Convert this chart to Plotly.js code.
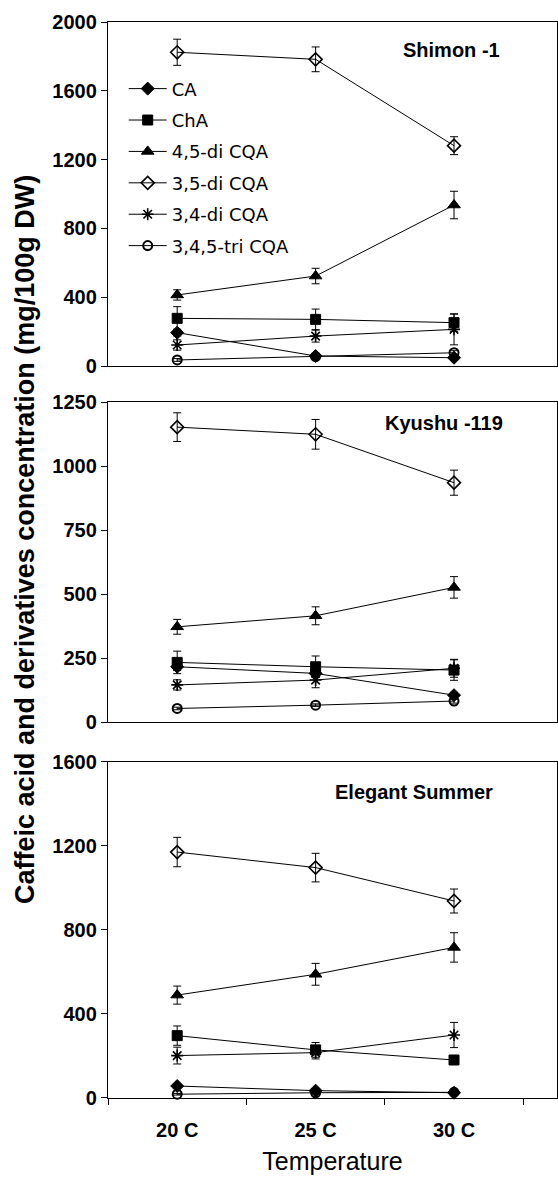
<!DOCTYPE html>
<html>
<head>
<meta charset="utf-8">
<script src="https://cdn.plot.ly/plotly-3.0.1.min.js"></script>
<style>html,body{margin:0;padding:0;background:#fff;}#chart{width:558px;height:1178px;}</style>
</head>
<body>
<div id="chart"></div>
<script>
// ---- Data ----
const categories = ['20 C', '25 C', '30 C'];
const seriesNames = ['CA', 'ChA', '4,5-di CQA', '3,5-di CQA', '3,4-di CQA', '3,4,5-tri CQA'];
const panelNames = ['Shimon -1', 'Kyushu -119', 'Elegant Summer'];

// Shimon -1
const shimonCA = [194, 58, 48];
const shimonChA = [277, 271, 252];
const shimon45 = [413, 523, 936];
const shimon35 = [1824, 1783, 1281];
const shimon34 = [122, 174, 213];
const shimonTri = [35, 54, 77];
const shimonCAErr = [20, 10, 10];
const shimonChAErr = [68, 60, 50];
const shimon45Err = [30, 45, 80];
const shimon35Err = [76, 72, 52];
const shimon34Err = [30, 35, 90];
const shimonTriErr = [8, 10, 12];

// Kyushu -119
const kyushuCA = [216, 190, 105];
const kyushuChA = [233, 216, 203];
const kyushu45 = [372, 415, 526];
const kyushu35 = [1152, 1124, 935];
const kyushu34 = [145, 164, 210];
const kyushuTri = [53, 66, 82];
const kyushuCAErr = [15, 15, 10];
const kyushuChAErr = [44, 42, 40];
const kyushu45Err = [29, 35, 42];
const kyushu35Err = [56, 58, 49];
const kyushu34Err = [20, 30, 35];
const kyushuTriErr = [5, 5, 8];

// Elegant Summer
const elegantCA = [57, 35, 25];
const elegantChA = [297, 229, 181];
const elegant45 = [490, 589, 717];
const elegant35 = [1171, 1097, 938];
const elegant34 = [202, 216, 300];
const elegantTri = [18, 25, 27];
const elegantCAErr = [8, 8, 5];
const elegantChAErr = [46, 35, 15];
const elegant45Err = [43, 52, 70];
const elegant35Err = [70, 68, 57];
const elegant34Err = [40, 30, 60];
const elegantTriErr = [4, 4, 4];

const yTicks1 = [0, 400, 800, 1200, 1600, 2000];
const yTicks2 = [0, 250, 500, 750, 1000, 1250];
const yTicks3 = [0, 400, 800, 1200, 1600];

// ---- Styles ----
const markerStyles = [
  {symbol: 'diamond', size: 10, color: '#000', line: {color: '#000', width: 1}},
  {symbol: 'square', size: 10, color: '#000', line: {color: '#000', width: 1}},
  {symbol: 'triangle-up', size: 11, color: '#000', line: {color: '#000', width: 1}},
  {symbol: 'diamond-open', size: 10, color: '#000', line: {color: '#000', width: 1.6}},
  {symbol: 'asterisk-open', size: 10, color: '#000', line: {color: '#000', width: 1.6}},
  {symbol: 'circle-open', size: 9, color: '#000', line: {color: '#000', width: 2}}
];

const panels = [
  {vals: [shimonCA, shimonChA, shimon45, shimon35, shimon34, shimonTri],
   errs: [shimonCAErr, shimonChAErr, shimon45Err, shimon35Err, shimon34Err, shimonTriErr], xa: 'x', ya: 'y'},
  {vals: [kyushuCA, kyushuChA, kyushu45, kyushu35, kyushu34, kyushuTri],
   errs: [kyushuCAErr, kyushuChAErr, kyushu45Err, kyushu35Err, kyushu34Err, kyushuTriErr], xa: 'x2', ya: 'y2'},
  {vals: [elegantCA, elegantChA, elegant45, elegant35, elegant34, elegantTri],
   errs: [elegantCAErr, elegantChAErr, elegant45Err, elegant35Err, elegant34Err, elegantTriErr], xa: 'x3', ya: 'y3'}
];

const traces = [];
panels.forEach((p, pi) => {
  seriesNames.forEach((name, si) => {
    traces.push({
      type: 'scatter', mode: 'lines+markers',
      x: categories, y: p.vals[si],
      name: name,
      legendgroup: 'g' + si,
      showlegend: pi === 0,
      xaxis: p.xa, yaxis: p.ya,
      line: {color: '#000', width: 1},
      marker: markerStyles[si],
      error_y: {type: 'data', array: p.errs[si], visible: true, color: '#000', thickness: 1, width: 4},
      cliponaxis: false
    });
  });
});

const tickFont = {family: 'Liberation Sans, Arial, sans-serif', size: 20, color: '#000', weight: 'bold'};

function xAxis(anchor, showLabels) {
  return {
    type: 'category', anchor: anchor, domain: [0, 1],
    range: [-0.5, 2.744],
    showline: true, mirror: true, linecolor: '#000', linewidth: 1.2,
    showgrid: false, zeroline: false,
    ticks: showLabels ? 'outside' : '', tickson: 'boundaries', ticklen: 6, tickcolor: '#000',
    showticklabels: showLabels, tickfont: tickFont, ticklabelstandoff: 14
  };
}
function yAxis(anchor, domain, ticks, range) {
  return {
    anchor: anchor, domain: domain, range: range,
    tickvals: ticks, ticktext: ticks.map(String),
    showline: true, mirror: true, linecolor: '#000', linewidth: 1.2,
    showgrid: false, zeroline: false,
    ticks: 'outside', ticklen: 6, tickcolor: '#000', tickfont: tickFont
  };
}

const panelFont = {family: 'Liberation Sans, Arial, sans-serif', size: 20, color: '#000', weight: 'bold'};

const layout = {
  width: 558, height: 1178,
  margin: {l: 108, r: 1, t: 22, b: 80},
  paper_bgcolor: '#fff', plot_bgcolor: '#fff',
  showlegend: true,
  legend: {
    x: 0.035, y: 0.955, xanchor: 'left', yanchor: 'top',
    bgcolor: 'rgba(0,0,0,0)', borderwidth: 0,
    traceorder: 'grouped', tracegroupgap: 5, itemwidth: 38,
    font: {family: 'DejaVu Sans, Verdana, sans-serif', size: 18, color: '#000'}
  },
  xaxis: xAxis('y', false),
  xaxis2: xAxis('y2', false),
  xaxis3: Object.assign(xAxis('y3', true), {
    title: {text: 'Temperature', font: {family: 'Liberation Sans, Arial, sans-serif', size: 25, color: '#000'}, standoff: 12}
  }),
  yaxis: yAxis('x', [0.6803, 1], yTicks1, [0, 2000]),
  yaxis2: yAxis('x2', [0.3494, 0.6468], yTicks2, [0, 1250]),
  yaxis3: yAxis('x3', [0, 0.3123], yTicks3, [0, 1600]),
  annotations: [
    {text: panelNames[0], xref: 'paper', yref: 'paper', x: 0.8775, y: 0.974, xanchor: 'right', yanchor: 'middle', showarrow: false, font: panelFont},
    {text: panelNames[1], xref: 'paper', yref: 'paper', x: 0.8842, y: 0.6273, xanchor: 'right', yanchor: 'middle', showarrow: false, font: panelFont},
    {text: panelNames[2], xref: 'paper', yref: 'paper', x: 0.862, y: 0.2844, xanchor: 'right', yanchor: 'middle', showarrow: false, font: panelFont},
    {text: 'Caffeic acid and derivatives concentration (mg/100g DW)', xref: 'paper', yref: 'paper',
     x: -0.185, y: 0.5195, xanchor: 'center', yanchor: 'middle', textangle: -90, showarrow: false,
     font: {family: 'Liberation Sans, Arial, sans-serif', size: 27, color: '#000', weight: 'bold'}}
  ]
};

Plotly.newPlot('chart', traces, layout, {displayModeBar: false, staticPlot: true});
</script>
</body>
</html>
